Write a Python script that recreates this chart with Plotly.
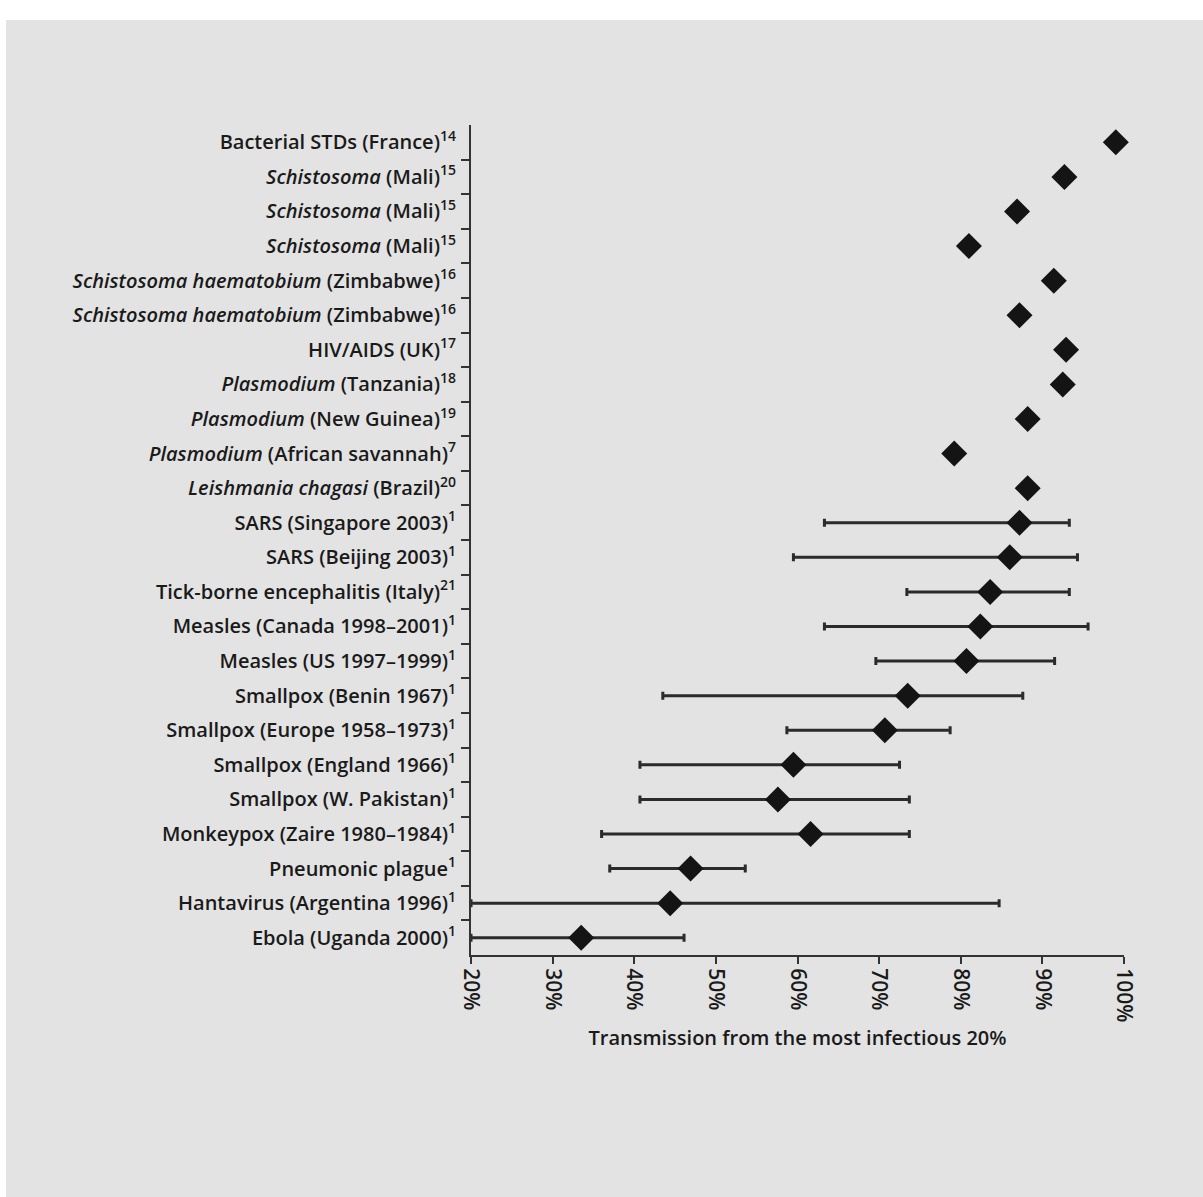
import plotly.graph_objects as go

# ---- data (top to bottom) ----
labels = [
    "Bacterial STDs (France)<sup>14</sup>",
    "<i>Schistosoma</i> (Mali)<sup>15</sup>",
    "<i>Schistosoma</i> (Mali)<sup>15</sup>",
    "<i>Schistosoma</i> (Mali)<sup>15</sup>",
    "<i>Schistosoma haematobium</i> (Zimbabwe)<sup>16</sup>",
    "<i>Schistosoma haematobium</i> (Zimbabwe)<sup>16</sup>",
    "HIV/AIDS (UK)<sup>17</sup>",
    "<i>Plasmodium</i> (Tanzania)<sup>18</sup>",
    "<i>Plasmodium</i> (New Guinea)<sup>19</sup>",
    "<i>Plasmodium</i> (African savannah)<sup>7</sup>",
    "<i>Leishmania chagasi</i> (Brazil)<sup>20</sup>",
    "SARS (Singapore 2003)<sup>1</sup>",
    "SARS (Beijing 2003)<sup>1</sup>",
    "Tick-borne encephalitis (Italy)<sup>21</sup>",
    "Measles (Canada 1998–2001)<sup>1</sup>",
    "Measles (US 1997–1999)<sup>1</sup>",
    "Smallpox (Benin 1967)<sup>1</sup>",
    "Smallpox (Europe 1958–1973)<sup>1</sup>",
    "Smallpox (England 1966)<sup>1</sup>",
    "Smallpox (W. Pakistan)<sup>1</sup>",
    "Monkeypox (Zaire 1980–1984)<sup>1</sup>",
    "Pneumonic plague<sup>1</sup>",
    "Hantavirus (Argentina 1996)<sup>1</sup>",
    "Ebola (Uganda 2000)<sup>1</sup>",
]

# point estimates (% transmission from most infectious 20%)
estimates = [99.0, 92.7, 86.9, 81.0, 91.4, 87.2, 92.9, 92.5, 88.2, 79.2, 88.2,
             87.2, 86.0, 83.6, 82.4, 80.7, 73.5, 70.7, 59.5, 57.6, 61.6, 46.9, 44.4, 33.5]

# confidence intervals for the rows that have them (SARS Singapore .. Ebola)
ci_lower = [63.3, 59.5, 73.4, 63.3, 69.6, 43.5, 58.7, 40.7, 40.7, 36.0, 37.0, 20.0, 20.0]
ci_upper = [93.3, 94.3, 93.3, 95.6, 91.5, 87.6, 78.7, 72.5, 73.7, 73.7, 53.6, 84.7, 46.1]

x_ticks = [20, 30, 40, 50, 60, 70, 80, 90, 100]
x_tick_text = ["20%", "30%", "40%", "50%", "60%", "70%", "80%", "90%", "100%"]
x_title = "Transmission from the most infectious 20%"

# ---- figure ----
rows = list(range(len(labels)))
n_no_ci = len(labels) - len(ci_lower)
ci_rows = rows[n_no_ci:]
ci_est = estimates[n_no_ci:]
err_plus = [u - e for u, e in zip(ci_upper, ci_est)]
err_minus = [e - l for e, l in zip(ci_est, ci_lower)]

W, H = 1203, 1197
ML, MR, MT, MB = 471, 79, 125, 242

fig = go.Figure()

# error bars (drawn under markers)
fig.add_trace(go.Scatter(
    x=ci_est, y=ci_rows, mode="markers",
    marker=dict(size=1, color="rgba(0,0,0,0)"),
    error_x=dict(type="data", symmetric=False, array=err_plus, arrayminus=err_minus,
                 color="#2b2b2b", thickness=3, width=4),
    showlegend=False, hoverinfo="skip", cliponaxis=False,
))

fig.add_trace(go.Scatter(
    x=estimates, y=rows, mode="markers",
    marker=dict(symbol="diamond", size=20, color="#141414", line=dict(width=0)),
    showlegend=False, cliponaxis=False,
))

pw = W - ML - MR
ph = H - MT - MB
# white strips along the top and left edges of the scanned page
fig.add_shape(type="rect", xref="paper", yref="paper",
              x0=-ML / pw, x1=(W - ML) / pw, y0=(H - MB) / ph, y1=(H - MB - 20) / ph,
              fillcolor="white", line=dict(width=0), layer="above")
fig.add_shape(type="rect", xref="paper", yref="paper",
              x0=-ML / pw, x1=(6 - ML) / pw, y0=-MB / ph, y1=(H - MB) / ph,
              fillcolor="white", line=dict(width=0), layer="above")

font_family = "Open Sans, Lato, sans-serif"

fig.update_layout(
    width=W, height=H,
    margin=dict(l=ML, r=MR, t=MT, b=MB, pad=0),
    paper_bgcolor="#e3e3e3",
    plot_bgcolor="rgba(0,0,0,0)",
    font=dict(family=font_family, color="#1a1a1a", size=20),
    xaxis=dict(
        range=[20, 100], tickmode="array", tickvals=x_ticks, ticktext=x_tick_text,
        tickangle=90, ticks="outside", ticklen=7, tickwidth=2, tickcolor="#333333",
        showline=True, linecolor="#333333", linewidth=2, showgrid=False, zeroline=False,
        tickfont=dict(size=21, color="#1a1a1a", weight=600),
        title=dict(text=x_title, font=dict(size=20, color="#1a1a1a", weight=600), standoff=10),
    ),
    yaxis=dict(
        range=[23.5, -0.5], tickmode="array", tickvals=rows, ticktext=labels,
        ticks="", showline=True, linecolor="#333333", linewidth=2,
        showgrid=False, zeroline=False, ticklabelstandoff=9,
        tickfont=dict(size=20, color="#1a1a1a", weight=600),
        minor=dict(tickmode="array", tickvals=[r + 0.5 for r in rows[:-1]],
                   ticks="outside", ticklen=8, tickwidth=2, tickcolor="#333333",
                   showgrid=False),
    ),
)

fig.write_html("out.html", config={"displayModeBar": False},
               post_script="document.body.style.margin='0';")
